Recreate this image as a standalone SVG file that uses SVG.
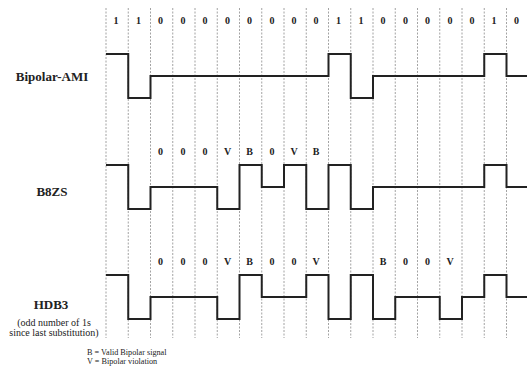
<svg xmlns="http://www.w3.org/2000/svg" width="527" height="372" viewBox="0 0 527 372">
<style>
.grid line{stroke:#8c8c8c;stroke-width:0.8;stroke-dasharray:2,1.5}
.wave{fill:none;stroke:#222;stroke-width:2;stroke-linejoin:miter}
.bit{font-family:"Liberation Serif",serif;font-weight:bold;font-size:10px;fill:#222;text-anchor:middle}
.name{font-family:"Liberation Serif",serif;font-weight:bold;font-size:13px;fill:#222;text-anchor:middle}
.small{font-family:"Liberation Serif",serif;font-size:10px;fill:#222;text-anchor:middle}
.legend{font-family:"Liberation Serif",serif;font-size:8.2px;fill:#222}
</style>
<rect width="527" height="372" fill="#fff"/>
<g id="grid" class="grid">
<line x1="106" y1="8" x2="106" y2="338"/>
<line x1="128.25" y1="8" x2="128.25" y2="338"/>
<line x1="150.5" y1="8" x2="150.5" y2="338"/>
<line x1="172.75" y1="8" x2="172.75" y2="338"/>
<line x1="195" y1="8" x2="195" y2="338"/>
<line x1="217.25" y1="8" x2="217.25" y2="338"/>
<line x1="239.5" y1="8" x2="239.5" y2="338"/>
<line x1="261.75" y1="8" x2="261.75" y2="338"/>
<line x1="284" y1="8" x2="284" y2="338"/>
<line x1="306.25" y1="8" x2="306.25" y2="338"/>
<line x1="328.5" y1="8" x2="328.5" y2="338"/>
<line x1="350.75" y1="8" x2="350.75" y2="338"/>
<line x1="373" y1="8" x2="373" y2="338"/>
<line x1="395.25" y1="8" x2="395.25" y2="338"/>
<line x1="417.5" y1="8" x2="417.5" y2="338"/>
<line x1="439.75" y1="8" x2="439.75" y2="338"/>
<line x1="462" y1="8" x2="462" y2="338"/>
<line x1="484.25" y1="8" x2="484.25" y2="338"/>
<line x1="506.5" y1="8" x2="506.5" y2="338"/>
</g>
<g id="bits">
<text class="bit" x="116" y="24">1</text>
<text class="bit" x="138.5" y="24">1</text>
<text class="bit" x="160.5" y="24">0</text>
<text class="bit" x="183" y="24">0</text>
<text class="bit" x="205" y="24">0</text>
<text class="bit" x="227.5" y="24">0</text>
<text class="bit" x="249.5" y="24">0</text>
<text class="bit" x="272" y="24">0</text>
<text class="bit" x="294" y="24">0</text>
<text class="bit" x="316" y="24">0</text>
<text class="bit" x="338.5" y="24">1</text>
<text class="bit" x="361" y="24">1</text>
<text class="bit" x="383" y="24">0</text>
<text class="bit" x="405.5" y="24">0</text>
<text class="bit" x="427.5" y="24">0</text>
<text class="bit" x="450" y="24">0</text>
<text class="bit" x="472" y="24">0</text>
<text class="bit" x="494" y="24">1</text>
<text class="bit" x="516.5" y="24">0</text>
</g>
<g id="ami">
<text class="name" x="52" y="81">Bipolar-AMI</text>
<path class="wave" d="M106,54 H128.25 V98 H150.5 V76 H328.5 V54 H350.75 V98 H373 V76 H484.25 V54 H506.5 V76 H527"/>
</g>
<g id="b8zs">
<text class="name" x="52" y="196">B8ZS</text>
<text class="bit" x="160.5" y="155">0</text>
<text class="bit" x="183" y="155">0</text>
<text class="bit" x="205" y="155">0</text>
<text class="bit" x="227.5" y="155">V</text>
<text class="bit" x="249.5" y="155">B</text>
<text class="bit" x="272" y="155">0</text>
<text class="bit" x="294" y="155">V</text>
<text class="bit" x="316" y="155">B</text>
<path class="wave" d="M106,165 H128.25 V209 H150.5 V187 H217.25 V209 H239.5 V165 H261.75 V187 H284 V165 H306.25 V209 H328.5 V165 H350.75 V209 H373 V187 H484.25 V165 H506.5 V187 H527"/>
</g>
<g id="hdb3">
<text class="name" x="51" y="309">HDB3</text>
<text class="small" x="54" y="326">(odd number of 1s</text>
<text class="small" x="54" y="336">since last substitution)</text>
<text class="bit" x="160.5" y="265">0</text>
<text class="bit" x="183" y="265">0</text>
<text class="bit" x="205" y="265">0</text>
<text class="bit" x="227.5" y="265">V</text>
<text class="bit" x="249.5" y="265">B</text>
<text class="bit" x="272" y="265">0</text>
<text class="bit" x="294" y="265">0</text>
<text class="bit" x="316" y="265">V</text>
<text class="bit" x="383" y="265">B</text>
<text class="bit" x="405.5" y="265">0</text>
<text class="bit" x="427.5" y="265">0</text>
<text class="bit" x="450" y="265">V</text>
<path class="wave" d="M106,275 H128.25 V319 H150.5 V297 H217.25 V319 H239.5 V275 H261.75 V297 H306.25 V275 H328.5 V319 H350.75 V275 H373 V319 H395.25 V297 H439.75 V319 H462 V297 H484.25 V275 H506.5 V297 H527"/>
</g>
<g id="legend">
<text class="legend" x="87" y="355">B = Valid Bipolar signal</text>
<text class="legend" x="87" y="364">V = Bipolar violation</text>
</g>
</svg>
